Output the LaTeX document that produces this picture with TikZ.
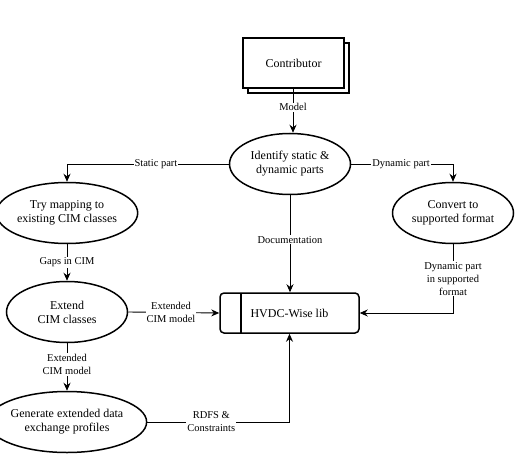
\documentclass[tikz,border=0pt]{standalone}
\usepackage{fontspec}
\setmainfont{Liberation Serif}
\usetikzlibrary{shapes.geometric,arrows.meta}
\begin{document}
\begin{tikzpicture}[x=1pt,y=-1pt,
  proc/.style={ellipse,draw,line width=1.5pt,minimum width=121pt,minimum height=61pt,inner sep=0pt,align=center,font=\fontsize{12}{14}\selectfont},
  lbl/.style={fill=white,inner sep=1pt,align=center,font=\fontsize{10.5}{13}\selectfont},
  conn/.style={line width=0.9pt,-{Stealth[length=8pt,width=7pt]}},
  plain/.style={line width=0.9pt}]
\useasboundingbox (0,0) rectangle (529,462);
% contributor
\node[draw,line width=1.5pt,minimum width=101pt,minimum height=50pt,fill=white] (shadow) at (298.5,68) {};
\node[draw,line width=1.5pt,minimum width=101pt,minimum height=50pt,fill=white,font=\fontsize{12}{14}\selectfont] (contrib) at (293.5,63) {Contributor};
\node[proc] (ident) at (290,164) {Identify static \&\\dynamic parts};
\node[proc] (try) at (67,213) {Try mapping to\\existing CIM classes};
\node[proc] (conv) at (453,213) {Convert to\\supported format};
\node[proc] (ext) at (67,312) {Extend\\CIM classes};
\node[proc] (gen) at (67,422) {Generate extended data\\exchange profiles};
\node[draw,line width=1.5pt,rounded corners=4pt,minimum width=139pt,minimum height=40pt,font=\fontsize{12}{14}\selectfont] (lib) at (289.5,313) {HVDC-Wise lib};
\draw[line width=1.5pt] (241,293) -- (241,333);
% connectors
\draw[conn] (contrib.south -| 293,0) -- node[lbl,pos=0.42]{Model} (ident.north -| 293,0);
\draw[conn] (ident.west) -- node[lbl,pos=0.45]{Static part} (try.north |- ident.west) -- (try.north);
\draw[conn] (ident.east) -- node[lbl,pos=0.49]{Dynamic part} (conv.north |- ident.east) -- (conv.north);
\draw[conn] (ident.south) -- node[lbl,pos=0.46]{Documentation} (ident.south |- lib.north);
\draw[conn] (try.south) -- node[lbl]{Gaps in CIM} (ext.north);
\draw[conn] (ext.east) -- node[lbl,pos=0.47]{Extended\\CIM model} (lib.west);
\draw[conn] (ext.south) -- node[lbl,pos=0.45]{Extended\\CIM model} (gen.north);
\coordinate (c1) at (lib.south |- gen.east);
\draw[conn] (gen.east) -- node[lbl,pos=0.45]{RDFS \&\\Constraints} (c1) -- (lib.south);
\coordinate (c2) at (conv.south |- lib.east);
\draw[conn] (conv.south) -- node[lbl,pos=0.5]{Dynamic part\\in supported\\format} (c2) -- (lib.east);
\end{tikzpicture}
\end{document}
